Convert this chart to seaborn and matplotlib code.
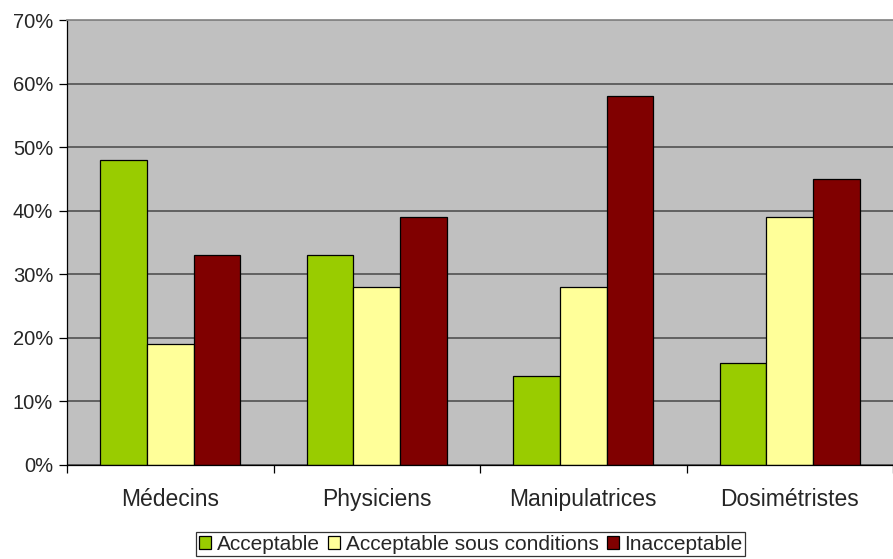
import numpy as np
import pandas as pd
import matplotlib
matplotlib.use("Agg")
import matplotlib.pyplot as plt
import seaborn as sns
from matplotlib.ticker import PercentFormatter, FixedLocator

categories = ["Médecins", "Physiciens", "Manipulatrices", "Dosimétristes"]
series = ["Acceptable", "Acceptable sous conditions", "Inacceptable"]
acceptable = [48, 33, 14, 16]
sous_conditions = [19, 28, 28, 39]
inacceptable = [33, 39, 58, 45]
yticks = [0, 10, 20, 30, 40, 50, 60, 70]

colors = ["#99CC00", "#FFFF99", "#800000"]

df = pd.DataFrame({
    "categorie": categories * 3,
    "serie": [s for s in series for _ in categories],
    "valeur": acceptable + sous_conditions + inacceptable,
})

sns.set_style("white")
plt.rcParams["font.family"] = ["Liberation Sans", "DejaVu Sans"]

fig = plt.figure(figsize=(8.93, 5.59), dpi=100)
ax = fig.add_axes([67 / 893, 1 - 465 / 559, 1 - 67 / 893, 445 / 559])
ax.set_facecolor("#C0C0C0")

sns.barplot(
    data=df, x="categorie", y="valeur", hue="serie",
    hue_order=series, palette=colors, width=0.68,
    edgecolor="black", linewidth=0.9, saturation=1, ax=ax,
    legend=True,
)

ax.set_ylim(0, 70)
ax.set_xlim(-0.5, 3.5)
ax.yaxis.set_major_locator(FixedLocator(yticks))
ax.yaxis.set_major_formatter(PercentFormatter(decimals=0))
ax.set_axisbelow(True)
ax.grid(axis="y", color="#5a5a5a", linewidth=1.3)
ax.grid(axis="x", visible=False)

ax.set_xlabel("")
ax.set_ylabel("")
ax.xaxis.set_minor_locator(FixedLocator([-0.5, 0.5, 1.5, 2.5, 3.5]))
ax.tick_params(axis="x", which="major", length=0, pad=16.5, labelsize=16.5)
ax.tick_params(axis="x", which="minor", length=6, width=0.9, color="black", direction="out", bottom=True)
ax.tick_params(axis="y", length=6, width=0.9, color="black", direction="out", left=True, labelsize=14.5, pad=4)

ax.spines["right"].set_visible(False)
ax.spines["top"].set_color("#8a8a8a")
ax.spines["top"].set_linewidth(1.3)
ax.spines["left"].set_color("black")
ax.spines["left"].set_linewidth(0.9)
ax.spines["bottom"].set_color("black")
ax.spines["bottom"].set_linewidth(0.9)

handles, labels = ax.get_legend_handles_labels()
leg = ax.legend(
    handles, labels, loc="center", bbox_to_anchor=(0.489, -0.178),
    ncol=3, frameon=True, fancybox=False, edgecolor="black",
    fontsize=15, handlelength=0.6, handleheight=0.6, handletextpad=0.25,
    columnspacing=0.4, borderpad=0.12, borderaxespad=0,
)
leg.get_frame().set_linewidth(0.9)

fig.savefig("out.png", dpi=100)
